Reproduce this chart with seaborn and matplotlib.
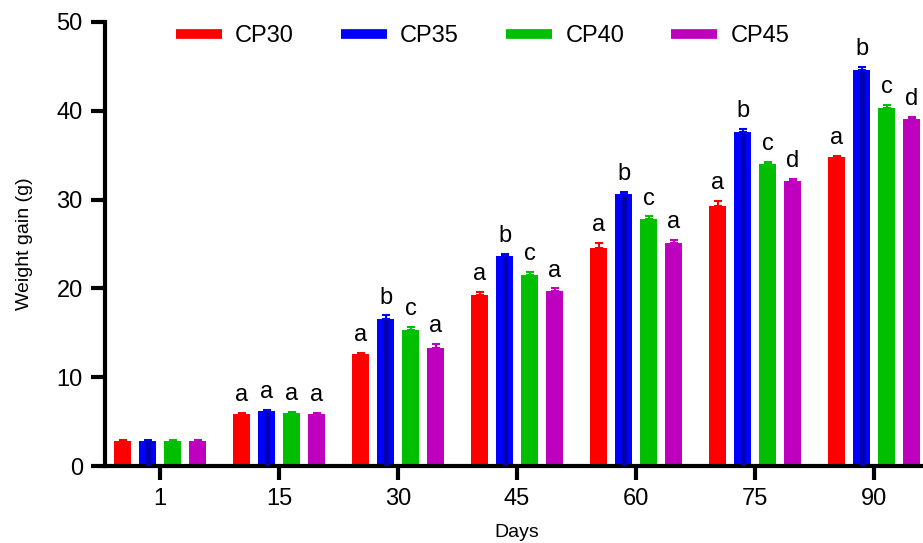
import matplotlib
matplotlib.use("Agg")
import matplotlib.pyplot as plt
from matplotlib.lines import Line2D
import seaborn as sns
import pandas as pd
import numpy as np

days = ["1", "15", "30", "45", "60", "75", "90"]
groups = ["CP30", "CP35", "CP40", "CP45"]
colors = ["#FF0000", "#0000FF", "#00BF00", "#BF00BF"]

cp30 = [2.8, 5.9, 12.6, 19.25, 24.6, 29.3, 34.8]
cp35 = [2.8, 6.2, 16.5, 23.65, 30.6, 37.6, 44.6]
cp40 = [2.8, 6.0, 15.3, 21.5, 27.8, 34.0, 40.35]
cp45 = [2.8, 5.9, 13.3, 19.7, 25.1, 32.1, 39.1]

err30 = [0.1, 0.1, 0.15, 0.4, 0.55, 0.55, 0.15]
err35 = [0.1, 0.15, 0.45, 0.25, 0.3, 0.4, 0.35]
err40 = [0.1, 0.1, 0.35, 0.35, 0.3, 0.2, 0.3]
err45 = [0.1, 0.1, 0.45, 0.3, 0.35, 0.25, 0.2]

let30 = ["", "a", "a", "a", "a", "a", "a"]
let35 = ["", "a", "b", "b", "b", "b", "b"]
let40 = ["", "a", "c", "c", "c", "c", "c"]
let45 = ["", "a", "a", "a", "a", "d", "d"]

values = [cp30, cp35, cp40, cp45]
errors = [err30, err35, err40, err45]
letters = [let30, let35, let40, let45]

rows = []
for g, vals in zip(groups, values):
    for d, v in zip(days, vals):
        rows.append({"Day": d, "Group": g, "Value": v})
df = pd.DataFrame(rows)

sns.set_theme(style="ticks")
plt.rcParams["font.family"] = ["Liberation Sans", "DejaVu Sans"]
plt.rcParams["text.color"] = "black"
plt.rcParams["axes.labelcolor"] = "black"
plt.rcParams["xtick.color"] = "black"
plt.rcParams["ytick.color"] = "black"

fig = plt.figure(figsize=(9.23, 5.43), dpi=100)
ax = fig.add_axes([0.1138, 0.1418, 0.8927, 0.8177])

sns.barplot(data=df, x="Day", y="Value", hue="Group", order=days,
            hue_order=groups, palette=colors, width=0.84, gap=0.32,
            saturation=1, errorbar=None, legend=False, linewidth=0, ax=ax)

bar_containers = list(ax.containers)
for ci, cont in enumerate(bar_containers):
    col = colors[ci]
    for bi, patch in enumerate(cont.patches):
        xc = patch.get_x() + patch.get_width() / 2
        h = patch.get_height()
        e = errors[ci][bi]
        if ci == 1:
            ax.vlines(xc, 0, h, color="#0000B0", lw=3.6, zorder=3)
        ax.errorbar(xc, h, yerr=[[0], [e]], fmt="none", ecolor=col,
                    elinewidth=1.5, capsize=2.6, capthick=1.5, zorder=4)
        txt = letters[ci][bi]
        if txt:
            ax.annotate(txt, xy=(xc, h + e), xytext=(0, 8.5),
                        textcoords="offset points", ha="center",
                        va="baseline", fontsize=17, color="black")

ax.set_xlim(-0.462, 6.462)
ax.set_ylim(0, 50)
ax.set_yticks([0, 10, 20, 30, 40, 50])
sns.despine(ax=ax)
for s in ["left", "bottom"]:
    ax.spines[s].set_linewidth(3)
    ax.spines[s].set_color("black")
ax.tick_params(axis="both", length=10, width=3, color="black",
               labelcolor="black", labelsize=17, pad=6, direction="out")

ax.set_xlabel("Days", fontsize=14, labelpad=10)
ax.set_ylabel("Weight gain (g)", fontsize=14, labelpad=17)

handles = [Line2D([0], [0], color=c, lw=7, solid_capstyle="butt") for c in colors]
fig.legend(handles, groups, loc="center left",
           bbox_to_anchor=(176 / 923, 1 - 36 / 543),
           bbox_transform=fig.transFigure, ncol=4, frameon=False,
           fontsize=17, handlelength=1.95, handletextpad=0.55,
           columnspacing=2.0, borderpad=0, borderaxespad=0)

fig.savefig("out.png", dpi=100)
